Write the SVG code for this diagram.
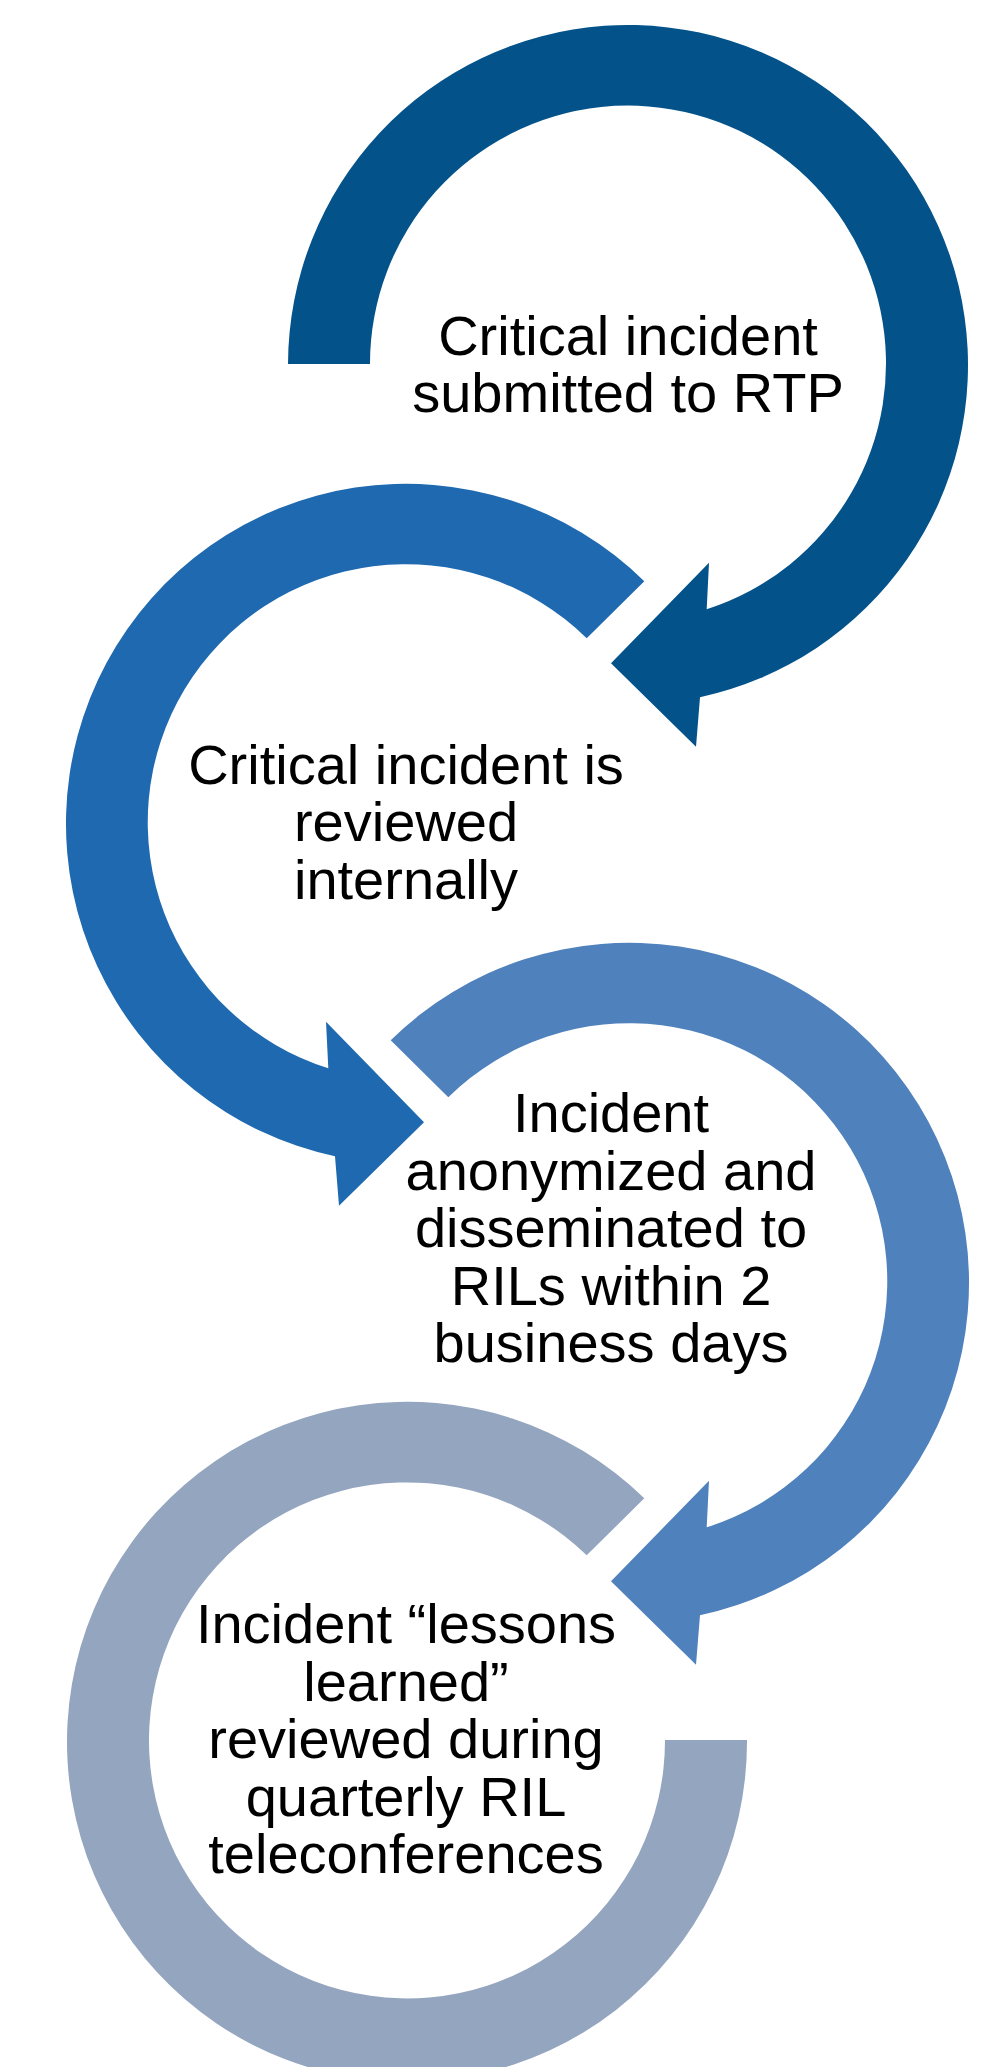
<svg xmlns="http://www.w3.org/2000/svg" width="983" height="2067" viewBox="0 0 983 2067">
  <style>
    .label { font-family: "Liberation Sans", Arial, sans-serif; font-size: 56px; fill: #000000; text-anchor: middle; }
    .s1 { fill: #03528A; }
    .s2 { fill: #1F69B0; }
    .s3 { fill: #4F81BD; }
    .s4 { fill: #94A5BF; }
  </style>
  <rect width="983" height="2067" fill="#FFFFFF"/>

  <!-- Step 1: circular arrow, clockwise from the left, head at lower left -->
  <g id="step-1">
    <path class="s1" d="M288,364 A340,340 0 1 1 700,697.3 L696,746.7 L611,663.3 L709,562.7 L706.7,609.3 A258,258 0 1 0 370,364 Z"/>
    <text class="label" x="628" y="355">Critical incident</text>
    <text class="label" x="628" y="412">submitted to RTP</text>
  </g>

  <!-- Step 2: counter-clockwise arrow, head at lower right -->
  <g id="step-2">
    <path class="s2" d="M644.3,581.3 A340,340 0 1 0 335,1156.3 L339,1205.7 L424,1122.3 L326,1021.7 L328.3,1068.3 A258,258 0 1 1 586.7,638.3 Z"/>
    <text class="label" x="406" y="784">Critical incident is</text>
    <text class="label" x="406" y="841">reviewed</text>
    <text class="label" x="406" y="898.5">internally</text>
  </g>

  <!-- Step 3: clockwise arrow, head at lower left -->
  <g id="step-3">
    <path class="s3" d="M390.7,1040.3 A340,340 0 1 1 700,1615.3 L696,1664.7 L611,1581.3 L709,1480.7 L706.7,1527.3 A258,258 0 1 0 448.3,1097.3 Z"/>
    <text class="label" x="611" y="1132">Incident</text>
    <text class="label" x="611" y="1189.5">anonymized and</text>
    <text class="label" x="611" y="1247">disseminated to</text>
    <text class="label" x="611" y="1304.5">RILs within 2</text>
    <text class="label" x="611" y="1362">business days</text>
  </g>

  <!-- Step 4: open ring ending flat on the right -->
  <g id="step-4">
    <path class="s4" d="M644.3,1498.3 A340,340 0 1 0 747,1740 L665,1740 A258,258 0 1 1 586.7,1555.3 Z"/>
    <text class="label" x="406" y="1643">Incident “lessons</text>
    <text class="label" x="406" y="1700.5">learned”</text>
    <text class="label" x="406" y="1758">reviewed during</text>
    <text class="label" x="406" y="1815.5">quarterly RIL</text>
    <text class="label" x="406" y="1873">teleconferences</text>
  </g>

  <g id="connectors"></g>
</svg>
